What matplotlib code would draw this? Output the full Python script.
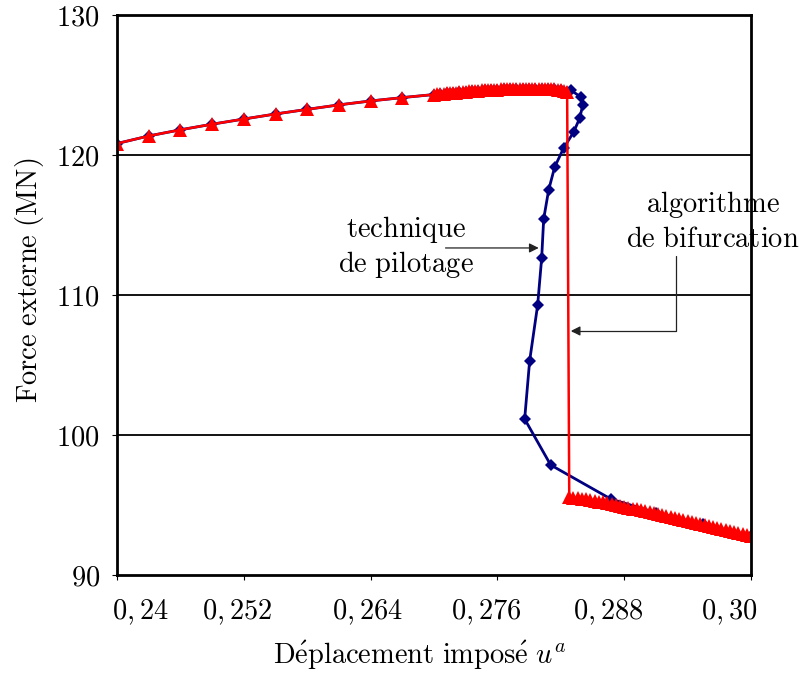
import matplotlib
matplotlib.use('Agg')
import matplotlib.pyplot as plt
from matplotlib.transforms import ScaledTranslation

plt.rcParams['mathtext.fontset'] = 'cm'
plt.rcParams['font.family'] = ['DejaVu Serif']

# ---------------- data ----------------
x_start = [0.240, 0.243, 0.246, 0.249, 0.252, 0.255, 0.258, 0.261, 0.264, 0.267]
f_start = [120.82, 121.36, 121.80, 122.20, 122.57, 122.93, 123.26, 123.58, 123.86, 124.10]

x_top = [0.2700, 0.2703, 0.2706, 0.2709, 0.2712, 0.2715, 0.2718, 0.2721, 0.2724, 0.2727,
         0.2730, 0.2733, 0.2736, 0.2739, 0.2742, 0.2745, 0.2748, 0.2751, 0.2754, 0.2757,
         0.2760, 0.2763, 0.2766, 0.2769, 0.2772, 0.2775, 0.2778, 0.2781, 0.2784, 0.2787,
         0.2790, 0.2793, 0.2796, 0.2799, 0.2802, 0.2805, 0.2808, 0.2811, 0.2814, 0.2817,
         0.2820, 0.2823, 0.2826]
f_top = [124.32, 124.34, 124.36, 124.38, 124.40, 124.42, 124.44, 124.46, 124.48, 124.50,
         124.52, 124.54, 124.56, 124.58, 124.59, 124.61, 124.62, 124.64, 124.65, 124.66,
         124.67, 124.68, 124.69, 124.70, 124.71, 124.71, 124.72, 124.72, 124.73, 124.73,
         124.73, 124.73, 124.73, 124.73, 124.72, 124.72, 124.71, 124.70, 124.69, 124.67,
         124.64, 124.60, 124.52]

x_bot = [0.2828, 0.2832, 0.2836, 0.2840, 0.2844, 0.2848, 0.2852, 0.2856, 0.2860, 0.2864,
         0.2868, 0.2872, 0.2876, 0.2880, 0.2884, 0.2888, 0.2892, 0.2896, 0.2900, 0.2904,
         0.2908, 0.2912, 0.2916, 0.2920, 0.2924, 0.2928, 0.2932, 0.2936, 0.2940, 0.2944,
         0.2948, 0.2952, 0.2956, 0.2960, 0.2964, 0.2968, 0.2972, 0.2976, 0.2980, 0.2984,
         0.2988, 0.2992, 0.2996, 0.3000]
f_bot = [95.55, 95.52, 95.48, 95.44, 95.40, 95.35, 95.30, 95.24, 95.18, 95.12,
         95.06, 95.00, 94.94, 94.88, 94.81, 94.75, 94.68, 94.62, 94.55, 94.48,
         94.41, 94.34, 94.27, 94.20, 94.13, 94.06, 93.99, 93.92, 93.85, 93.78,
         93.71, 93.64, 93.57, 93.50, 93.43, 93.36, 93.29, 93.22, 93.15, 93.08,
         93.01, 92.94, 92.87, 92.78]

x_turn = [0.28294, 0.28389, 0.28408, 0.28379, 0.28322, 0.28227, 0.28142, 0.28085, 0.28038,
          0.28019, 0.27981, 0.27905, 0.27858, 0.28104, 0.28673, 0.2910, 0.2955, 0.3000]
f_turn = [124.64, 124.14, 123.57, 122.64, 121.64, 120.50, 119.14, 117.50, 115.43,
          112.64, 109.29, 105.29, 101.14, 97.86, 95.43, 94.45, 93.62, 92.80]

x_ticks = [0.240, 0.252, 0.264, 0.276, 0.288, 0.300]
x_ticklabels = [r'$0,24$', r'$0,252$', r'$0,264$', r'$0,276$', r'$0,288$', r'$0,30$']
x_label_shift_px = [23, -7, -3, -11.5, -15.5, -21.5]
y_ticks = [90, 100, 110, 120, 130]
y_ticklabels = [r'$90$', r'$100$', r'$110$', r'$120$', r'$130$']

# ---------------- figure ----------------
fig = plt.figure(figsize=(8.03, 6.73), dpi=100)
ax = fig.add_axes([117/803, 1 - 575/673, (751-117)/803, (575-15)/673])
FS = 20.5

for yv in [100, 110, 120]:
    ax.axhline(yv, color='black', lw=1.3, zorder=1)

blue_x = x_start + x_top[::2] + x_turn
blue_f = f_start + f_top[::2] + f_turn
ax.plot(blue_x, blue_f, color='#000080', lw=2.0, marker='D', markersize=6,
        markeredgewidth=0, zorder=3)

red_x = x_start + x_top + x_bot
red_f = f_start + f_top + f_bot
ax.plot(red_x, red_f, color='#ff0000', lw=1.8, marker='^', markersize=10.5,
        markeredgewidth=0, zorder=4)

ax.set_xlim(0.24, 0.30)
ax.set_ylim(90, 130)
ax.set_xticks(x_ticks)
ax.set_xticklabels(x_ticklabels, fontsize=FS)
ax.set_yticks(y_ticks)
ax.set_yticklabels(y_ticklabels, fontsize=FS)
ax.tick_params(axis='x', direction='out', length=3.6, width=0.8, pad=12.5)
ax.tick_params(axis='y', direction='out', length=3.6, width=0.8, pad=8.6)
for s in ax.spines.values():
    s.set_linewidth(2.0)
    s.set_zorder(5)

for lab, dx in zip(ax.get_xticklabels(), x_label_shift_px):
    lab.set_transform(lab.get_transform() + ScaledTranslation(dx / 100, 0, fig.dpi_scale_trans))

ax.set_xlabel(r'$\mathrm{D\acute{e}placement\ impos\acute{e}}\ u^a$', fontsize=FS)
ax.xaxis.set_label_coords((420-117)/634, -(639-575)/560)
ax.set_ylabel(r'$\mathrm{Force\ externe\ (MN)}$', fontsize=FS)
ax.yaxis.set_label_coords(-(117-46)/634, (575-280)/560)

# annotations
ax.text(0.26739, 114.14, r'$\mathrm{technique}$', fontsize=FS, ha='center', va='baseline')
ax.text(0.26739, 111.64, r'$\mathrm{de\ pilotage}$', fontsize=FS, ha='center', va='baseline')
ax.annotate('', xy=(0.27991, 113.36), xytext=(0.27109, 113.36),
            arrowprops=dict(arrowstyle='-|>', color='#222222', lw=0.9,
                            mutation_scale=14, shrinkA=0, shrinkB=0))

ax.text(0.2964, 115.93, r'$\mathrm{algorithme}$', fontsize=FS, ha='center', va='baseline')
ax.text(0.2964, 113.43, r'$\mathrm{de\ bifurcation}$', fontsize=FS, ha='center', va='baseline')
ax.annotate('', xy=(0.28294, 107.43), xytext=(0.29289, 112.79),
            arrowprops=dict(arrowstyle='-|>', color='#222222', lw=0.9,
                            mutation_scale=14, shrinkA=0, shrinkB=0,
                            connectionstyle='angle,angleA=90,angleB=0,rad=0'))

fig.savefig('out.png', dpi=100)
